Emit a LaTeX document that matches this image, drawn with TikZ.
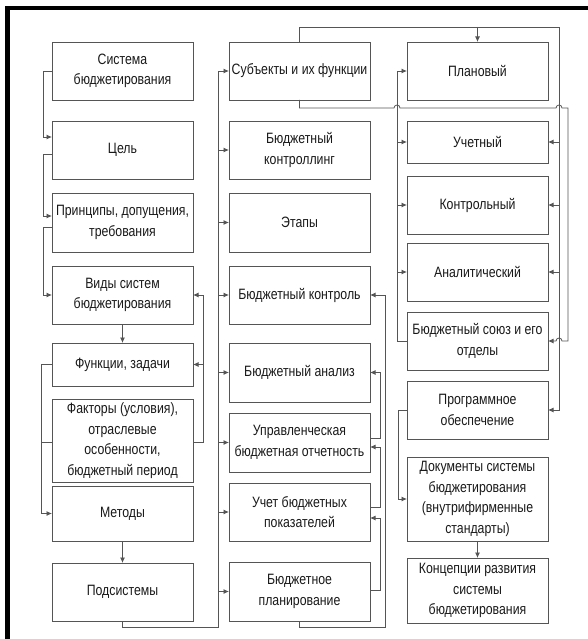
\documentclass[tikz,border=0pt]{standalone}
\usepackage{fontspec}
\setmainfont{Liberation Sans}[FakeStretch=0.82]
\usetikzlibrary{arrows.meta,calc}
\definecolor{lc}{HTML}{555555}
\begin{document}
\begin{tikzpicture}[x=1pt,y=-1pt,
 box/.style={draw=lc, line width=0.95pt, minimum width=141pt, inner sep=0pt, outer sep=0pt, align=center, font=\fontsize{15}{20.5}\selectfont, text=black!90},
 arr/.style={draw=lc, line width=0.8pt, -{Latex[length=5.5pt,width=5pt]}},
 conn/.style={draw=lc, line width=0.8pt}]
\useasboundingbox (0,0) rectangle (588,639);
\fill[black] (5,6) rectangle (588,10);
\fill[black] (5,6) rectangle (10,639);
% column 1
\node[box, minimum height=58pt] (A1) at (122.5,71) {Система\\бюджетирования};
\node[box, minimum height=58pt] (A2) at (122.5,150) {Цель};
\node[box, minimum height=59pt] (A3) at (122.5,222.5) {Принципы, допущения,\\требования};
\node[box, minimum height=58pt] (A4) at (122.5,295) {Виды систем\\бюджетирования};
\node[box, minimum height=43pt] (A5) at (122.5,364.5) {Функции, задачи};
\node[box, minimum height=83pt] (A6) at (122.5,440.5) {Факторы (условия),\\отраслевые\\особенности,\\бюджетный период};
\node[box, minimum height=55pt] (A7) at (122.5,513.5) {Методы};
\node[box, minimum height=58pt] (A8) at (122.5,592) {Подсистемы};
% column 2
\node[box, minimum height=58pt] (B1) at (299.5,71) {Субъекты и их функции};
\node[box, minimum height=58pt] (B2) at (299.5,150) {Бюджетный\\контроллинг};
\node[box, minimum height=59pt] (B3) at (299.5,222.5) {Этапы};
\node[box, minimum height=58pt] (B4) at (299.5,295) {Бюджетный контроль};
\node[box, minimum height=59pt] (B5) at (299.5,372.5) {Бюджетный анализ};
\node[box, minimum height=59pt] (B6) at (299.5,442.5) {Управленческая\\бюджетная отчетность};
\node[box, minimum height=58pt] (B7) at (299.5,512) {Учет бюджетных\\показателей};
\node[box, minimum height=59pt] (B8) at (299.5,591.5) {Бюджетное\\планирование};
% column 3
\node[box, minimum height=58pt] (C1) at (477.5,71) {Плановый};
\node[box, minimum height=42pt] (C2) at (477.5,142) {Учетный};
\node[box, minimum height=58pt] (C3) at (477.5,205) {Контрольный};
\node[box, minimum height=58pt] (C4) at (477.5,272) {Аналитический};
\node[box, minimum height=58pt] (C5) at (477.5,341) {Бюджетный союз и его\\отделы};
\node[box, minimum height=58pt] (C6) at (477.5,410) {Программное\\обеспечение};
\node[box, minimum height=84pt] (C7) at (477.5,499) {Документы системы\\бюджетирования\\(внутрифирменные\\стандарты)};
\node[box, minimum height=65pt] (C8) at (477.5,590.5) {Концепции развития\\системы\\бюджетирования};
% left column connectors
\draw[arr] (A1.west) -- ++(-9,0) |- (A2.west |- 0,137);
\draw[arr] (A2.west |- 0,154) -- ++(-9,0) |- (A3.west |- 0,216);
\draw[arr] (A3.west |- 0,227) -- ++(-9,0) |- (A4.west);
\draw[arr] (A4.south) -- (A5.north);
\draw[arr] (A5.west) -- ++(-11,0) |- (A7.west);
\draw[conn] (A6.west |- 0,442) -- (41,442);
\draw[arr] (A7.south) -- (A8.north);
\draw[arr] (A6.east |- 0,442) -- ++(10,0) |- (A4.east);
\draw[arr] (A5.east -| 203,0) -- (A5.east);
% to middle column
\draw[arr] (A8.south) |- (218,627) |- (B1.west);
\foreach \n in {B2,B3,B4,B5,B6,B7,B8} \draw[arr] (\n.west -| 218,0) -- (\n.west);
% middle column right side
\draw[arr] (B8.south) |- (385,627) |- (B4.east);
\draw[arr] (B6.east |- 0,438) -- ++(10,0) |- (B5.east);
\draw[arr] (B7.east |- 0,507) -- ++(10,0) |- (B6.east |- 0,447);
\draw[arr] (B8.east |- 0,590) -- ++(10,0) |- (B7.east |- 0,518);
% top connectors
\draw[arr] (B1.north) |- (559,27) |- (C6.east);
\draw[arr] (C1.north |- 0,27) -- (C1.north);
\foreach \n in {C2,C3,C4} \draw[arr] (\n.east -| 559,0) -- (\n.east);
\draw[arr] (B1.south) |- (394,108) arc[start angle=180,end angle=0,radius=3pt] -- (556,108) arc[start angle=180,end angle=0,radius=3pt] -- (568,108) |- (562,341) arc[start angle=0,end angle=180,radius=3pt] -- (C5.east);
% right column left side
\draw[arr] (C5.west) -- ++(-10,0) |- (C1.west);
\foreach \n in {C2,C3,C4} \draw[arr] (\n.west -| 397,0) -- (\n.west);
\draw[arr] (C6.west) -- ++(-9,0) |- (C7.west);
\draw[arr] (C7.south) -- (C8.north);
\end{tikzpicture}
\end{document}
